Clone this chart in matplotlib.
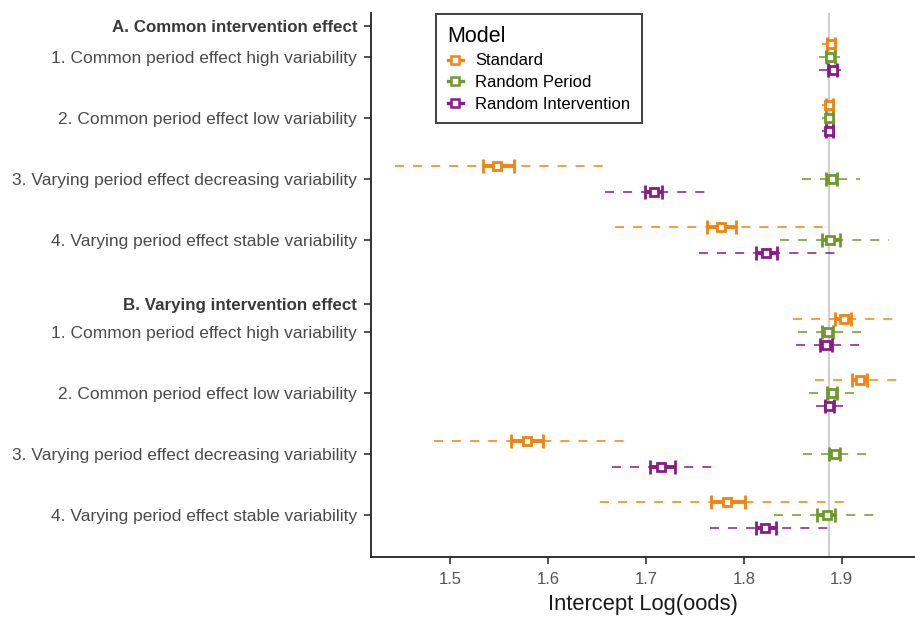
import matplotlib
matplotlib.use("Agg")
import matplotlib.pyplot as plt
from matplotlib.lines import Line2D
import numpy as np

plt.rcParams['font.family'] = ['Liberation Sans', 'DejaVu Sans']

# row labels (headers are bold)
labels = ["A. Common intervention effect",
          "1. Common period effect high variability",
          "2. Common period effect low variability",
          "3. Varying period effect decreasing variability",
          "4. Varying period effect stable variability",
          "B. Varying intervention effect",
          "1. Common period effect high variability",
          "2. Common period effect low variability",
          "3. Varying period effect decreasing variability",
          "4. Varying period effect stable variability"]
label_pos = [-0.5, 0, 1, 2, 3, 4.05, 4.5, 5.5, 6.5, 7.5]
row_pos = [0, 1, 2, 3, 4.5, 5.5, 6.5, 7.5]

models = ["Standard", "Random Period", "Random Intervention"]
colors = ["#F5820D", "#6E9A2A", "#8B1A8B"]
offsets = [-0.21, 0.0, 0.21]

# Standard
std_est = [1.8887, 1.8873, 1.548, 1.777, 1.902, 1.919, 1.578, 1.783]
std_ci_lo = [1.885, 1.884, 1.533, 1.762, 1.893, 1.911, 1.562, 1.766]
std_ci_hi = [1.893, 1.891, 1.565, 1.792, 1.910, 1.926, 1.595, 1.801]
std_rng_lo = [1.880, 1.880, 1.444, 1.668, 1.850, 1.873, 1.483, 1.653]
std_rng_hi = [1.898, 1.896, 1.656, 1.881, 1.956, 1.964, 1.682, 1.910]

# Random Period
rp_est = [1.888, 1.887, 1.890, 1.888, 1.886, 1.890, 1.893, 1.885]
rp_ci_lo = [1.884, 1.884, 1.884, 1.880, 1.880, 1.885, 1.887, 1.875]
rp_ci_hi = [1.893, 1.891, 1.895, 1.898, 1.891, 1.895, 1.898, 1.893]
rp_rng_lo = [1.877, 1.880, 1.859, 1.837, 1.855, 1.867, 1.861, 1.831]
rp_rng_hi = [1.898, 1.895, 1.919, 1.948, 1.920, 1.917, 1.927, 1.941]

# Random Intervention
ri_est = [1.891, 1.887, 1.708, 1.823, 1.884, 1.887, 1.715, 1.822]
ri_ci_lo = [1.886, 1.884, 1.699, 1.813, 1.878, 1.883, 1.704, 1.813]
ri_ci_hi = [1.895, 1.891, 1.716, 1.834, 1.890, 1.892, 1.730, 1.833]
ri_rng_lo = [1.877, 1.880, 1.658, 1.754, 1.853, 1.874, 1.665, 1.765]
ri_rng_hi = [1.899, 1.895, 1.768, 1.893, 1.919, 1.910, 1.776, 1.890]

ref_value = 1.8875

series = [
    (std_est, std_ci_lo, std_ci_hi, std_rng_lo, std_rng_hi),
    (rp_est, rp_ci_lo, rp_ci_hi, rp_rng_lo, rp_rng_hi),
    (ri_est, ri_ci_lo, ri_ci_hi, ri_rng_lo, ri_rng_hi),
]

fig = plt.figure(figsize=(9.15, 6.18), dpi=100)
ax = fig.add_axes([371 / 915, 1 - 556.7 / 618, 544 / 915, (556.7 - 13) / 618])

ax.axvline(ref_value, color="#cfcfcf", lw=1.5, zorder=0)

for (est, lo, hi, rlo, rhi), col, off in zip(series, colors, offsets):
    y = np.array(row_pos) + off
    est = np.array(est)
    ax.hlines(y, rlo, rhi, color=col, lw=1.3, linestyles=(0, (5, 5)), alpha=0.85, zorder=2)
    ax.errorbar(est, y, xerr=[est - np.array(lo), np.array(hi) - est], fmt='s',
                color=col, ecolor=col, elinewidth=2.8, capsize=5, capthick=2.4,
                markersize=6.2, markerfacecolor="white", markeredgewidth=2.0,
                markeredgecolor=col, zorder=3)

ax.set_xlim(1.419, 1.975)
ax.set_ylim(8.18, -0.715)
ax.set_xticks([1.5, 1.6, 1.7, 1.8, 1.9])
ax.set_xticklabels(["1.5", "1.6", "1.7", "1.8", "1.9"])
ax.set_yticks(label_pos)
ax.set_yticklabels(labels)
for i, t in enumerate(ax.get_yticklabels()):
    if i in (0, 5):
        t.set_fontsize(12.2)
        t.set_fontweight("bold")
        t.set_color("#3a3a3a")
    else:
        t.set_fontsize(12.5)
        t.set_color("#4a4a4a")
for t in ax.get_xticklabels():
    t.set_fontsize(12.0)
    t.set_color("#555555")

ax.tick_params(axis="both", direction="out", length=5, width=1.2, color="#333333")
ax.tick_params(axis="x", pad=6)
ax.tick_params(axis="y", pad=5)
ax.spines["top"].set_visible(False)
ax.spines["right"].set_visible(False)
ax.spines["left"].set_linewidth(1.3)
ax.spines["bottom"].set_linewidth(1.3)
ax.spines["left"].set_color("#222222")
ax.spines["bottom"].set_color("#222222")

ax.set_xlabel("Intercept Log(oods)", fontsize=15.8, color="#1a1a1a", labelpad=5)

handles = [Line2D([0], [0], color=c, lw=2.4, marker='s', markersize=5.5,
                  markerfacecolor="white", markeredgewidth=1.8, markeredgecolor=c)
           for c in colors]
leg = ax.legend(handles, models, title="Model", loc="upper left",
                bbox_to_anchor=(0.1195, 0.998), borderaxespad=0,
                fancybox=False, edgecolor="#111111", fontsize=12,
                title_fontsize=15.5, handlelength=0.9, handletextpad=0.75,
                labelspacing=0.4, borderpad=0.7, alignment="left")
leg.get_frame().set_linewidth(1.4)

fig.savefig("out.png", dpi=100)
